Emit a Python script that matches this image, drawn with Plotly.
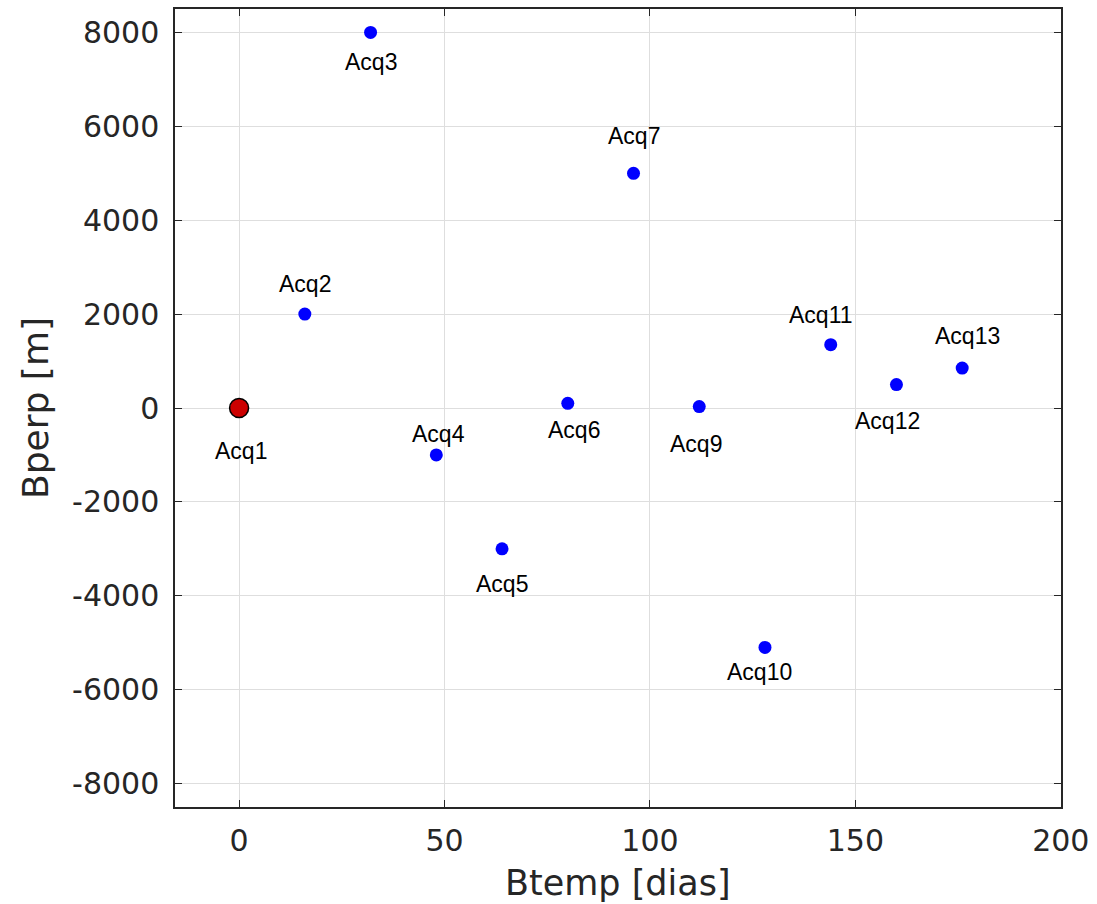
import plotly.graph_objects as go

# Data
names = ["Acq1", "Acq2", "Acq3", "Acq4", "Acq5", "Acq6", "Acq7",
         "Acq9", "Acq10", "Acq11", "Acq12", "Acq13"]
btemp = [0, 16, 32, 48, 64, 80, 96, 112, 128, 144, 160, 176]
bperp = [0, 2000, 8000, -1000, -3000, 100, 5000, 30, -5100, 1350, 500, 850]
x_ticks = [0, 50, 100, 150, 200]
y_ticks = [-8000, -6000, -4000, -2000, 0, 2000, 4000, 6000, 8000]
x_title = "Btemp [dias]"
y_title = "Bperp [m]"

# Label pixel offsets (style): (dx, dy) with dy positive = downward
label_offsets = {
    "Acq1": (2, 43), "Acq2": (0, -30), "Acq3": (0, 30), "Acq4": (2, -21),
    "Acq5": (0, 35), "Acq6": (6, 27), "Acq7": (0, -37), "Acq9": (-3, 37),
    "Acq10": (-5, 25), "Acq11": (-10, -30), "Acq12": (-9, 36), "Acq13": (5, -32),
}

fig = go.Figure()

fig.add_trace(go.Scatter(
    x=btemp[1:], y=bperp[1:], mode="markers",
    marker=dict(color="#0000ff", size=13, symbol="circle", line=dict(width=0)),
    showlegend=False, hoverinfo="skip"))
fig.add_trace(go.Scatter(
    x=btemp[:1], y=bperp[:1], mode="markers",
    marker=dict(color="#cc0000", size=19, symbol="circle",
                line=dict(color="black", width=1.5)),
    showlegend=False, hoverinfo="skip"))

for n, xv, yv in zip(names, btemp, bperp):
    dx, dy = label_offsets[n]
    fig.add_annotation(x=xv, y=yv, text=n, showarrow=False,
                       xshift=dx, yshift=-dy,
                       font=dict(family="Liberation Sans, Arial", size=23, color="black"))

# x-axis title (annotation so it can sit near the page edge like the original)
fig.add_annotation(x=0.5, y=0, xref="paper", yref="paper", text=x_title,
                   showarrow=False, yanchor="middle", xanchor="center", yshift=-76,
                   font=dict(family="DejaVu Sans", size=35, color="#262626"))

axis_common = dict(
    showgrid=True, gridcolor="#dedede", gridwidth=1,
    zeroline=False, showline=True, linecolor="#262626", linewidth=1.5,
    mirror="ticks", ticks="inside", ticklen=7, tickcolor="#262626", tickwidth=1.2,
    tickfont=dict(family="DejaVu Sans", size=30, color="#262626"),
    automargin=False, ticklabeloverflow="allow",
)

fig.update_xaxes(range=[-15.6, 200.05], tickvals=x_ticks,
                 ticktext=[str(v) for v in x_ticks],
                 ticklabelstandoff=6,
                 **axis_common)
fig.update_yaxes(range=[-8500, 8500], tickvals=y_ticks,
                 ticktext=[str(v) for v in y_ticks],
                 title=dict(text=y_title, standoff=12,
                            font=dict(family="DejaVu Sans", size=36, color="#262626")),
                 ticklabelstandoff=8,
                 **axis_common)

fig.update_layout(
    width=1097, height=904,
    margin=dict(l=175, r=36, t=9, b=97),
    plot_bgcolor="white", paper_bgcolor="white",
)

fig.write_html("out.html",
               config={"displayModeBar": False},
               post_script="document.body.style.margin='0';document.body.style.overflow='hidden';")
